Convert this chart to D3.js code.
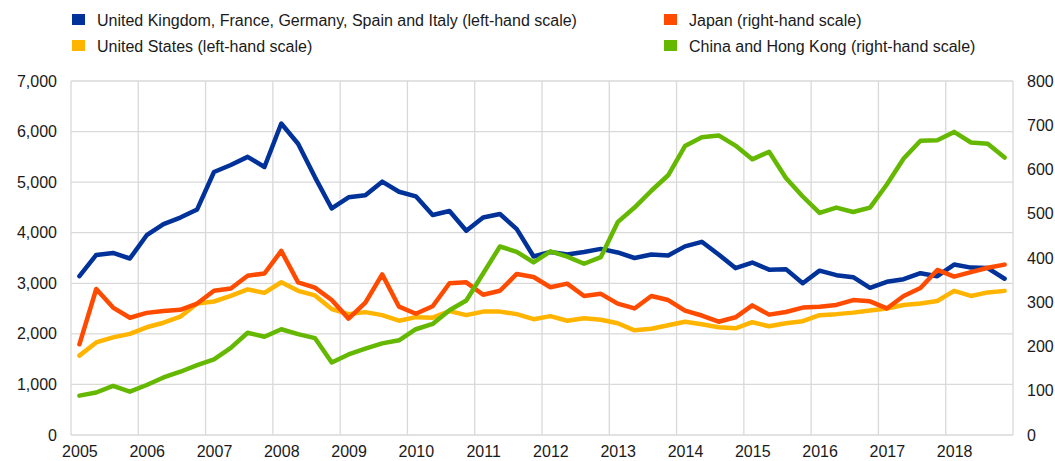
<!DOCTYPE html>
<html>
<head>
<meta charset="utf-8">
<script src="https://cdn.jsdelivr.net/npm/d3@7"></script>
<style>
  html, body { margin: 0; padding: 0; background: #ffffff; }
  svg { display: block; }
  text { font-family: "Liberation Sans", Arial, sans-serif; fill: #1a1a1a; }
</style>
</head>
<body>
<svg id="chart" width="1055" height="461"></svg>
<script>
// Quarterly observations, 2005 Q1 - 2018 Q4
const years = [2005, 2006, 2007, 2008, 2009, 2010, 2011, 2012, 2013, 2014, 2015, 2016, 2017, 2018];
const leftTicks = [0, 1000, 2000, 3000, 4000, 5000, 6000, 7000];
const rightTicks = [0, 100, 200, 300, 400, 500, 600, 700, 800];

// left-hand scale
const ukFrDeEsIt = [3140, 3560, 3600, 3490, 3950, 4170, 4300, 4460, 5200, 5340, 5500, 5300, 6160, 5760, 5100, 4480,
  4700, 4740, 5010, 4810, 4720, 4350, 4430, 4040, 4300, 4370, 4070, 3530, 3620, 3570, 3620, 3680,
  3610, 3500, 3570, 3550, 3730, 3820, 3570, 3300, 3410, 3270, 3280, 3000, 3250, 3160, 3120, 2910,
  3030, 3080, 3200, 3140, 3370, 3310, 3300, 3090];
const unitedStates = [1570, 1830, 1930, 2000, 2130, 2220, 2340, 2600, 2640, 2750, 2880, 2810, 3020, 2850, 2760, 2490,
  2390, 2430, 2370, 2260, 2330, 2320, 2450, 2370, 2440, 2440, 2390, 2290, 2350, 2260, 2310, 2280,
  2210, 2070, 2100, 2170, 2240, 2190, 2130, 2110, 2230, 2150, 2210, 2250, 2370, 2390, 2420, 2460,
  2500, 2570, 2600, 2650, 2850, 2750, 2820, 2850];
// right-hand scale
const japan = [205, 330, 288, 265, 276, 280, 283, 297, 326, 331, 360, 365, 416, 345, 333, 305,
  263, 299, 363, 290, 274, 291, 343, 345, 317, 326, 364, 357, 334, 342, 314, 319,
  297, 286, 314, 305, 281, 270, 256, 266, 293, 272, 278, 288, 290, 294, 305, 302,
  286, 314, 332, 373, 358, 368, 378, 385];
const chinaHK = [89, 96, 111, 98, 113, 130, 143, 158, 171, 197, 231, 222, 239, 228, 219, 164,
  182, 195, 207, 214, 239, 251, 282, 304, 365, 426, 414, 390, 415, 403, 387, 402,
  481, 514, 552, 587, 653, 673, 677, 654, 623, 640, 581, 539, 502, 514, 504, 514,
  566, 625, 665, 666, 685, 661, 658, 627];

const seriesNames = [
  "United Kingdom, France, Germany, Spain and Italy (left-hand scale)",
  "United States (left-hand scale)",
  "Japan (right-hand scale)",
  "China and Hong Kong (right-hand scale)"
];
const colors = ["#003299", "#FFB400", "#FF4B00", "#65B800"];

(function () {
  const svg = d3.select("#chart");
  const pLeft = 71, pRight = 1013, pTop = 81, pBottom = 435;
  const nQ = ukFrDeEsIt.length;

  const x = d3.scaleLinear().domain([0, nQ]).range([pLeft, pRight]);
  const yL = d3.scaleLinear().domain([0, 7000]).range([pBottom, pTop]);
  const yR = d3.scaleLinear().domain([0, 800]).range([pBottom, pTop]);

  const grid = svg.append("g");
  grid.selectAll("line.h").data(leftTicks).enter().append("line")
    .attr("x1", pLeft).attr("x2", pRight)
    .attr("y1", d => yL(d)).attr("y2", d => yL(d))
    .attr("stroke", "#d9d9d9").attr("stroke-width", 1.3);
  const vLines = d3.range(0, nQ + 1, 4);
  grid.selectAll("line.v").data(vLines).enter().append("line")
    .attr("x1", d => x(d)).attr("x2", d => x(d))
    .attr("y1", pTop).attr("y2", pBottom)
    .attr("stroke", "#d9d9d9").attr("stroke-width", 1.3);

  const axL = svg.append("g").attr("transform", `translate(${pLeft},0)`)
    .call(d3.axisLeft(yL).tickValues(leftTicks).tickFormat(d3.format(",")).tickSize(0).tickPadding(14));
  const axR = svg.append("g").attr("transform", `translate(${pRight},0)`)
    .call(d3.axisRight(yR).tickValues(rightTicks).tickFormat(d3.format(",")).tickSize(0).tickPadding(14));
  const axB = svg.append("g").attr("transform", `translate(0,${pBottom})`)
    .call(d3.axisBottom(x).tickValues(years.map((yy, k) => 4 * k + 0.5)).tickFormat((d, k) => years[k]).tickSize(0).tickPadding(11));
  [axL, axR, axB].forEach(a => {
    a.select(".domain").remove();
    a.selectAll("text").style("font-size", "16px").attr("fill", "#1a1a1a")
      .style("font-family", '"Liberation Sans", Arial, sans-serif');
  });

  const lineL = d3.line().x((d, i) => x(i + 0.5)).y(d => yL(d));
  const lineR = d3.line().x((d, i) => x(i + 0.5)).y(d => yR(d));
  const drawOrder = [
    { data: ukFrDeEsIt, gen: lineL, color: colors[0] },
    { data: unitedStates, gen: lineL, color: colors[1] },
    { data: japan, gen: lineR, color: colors[2] },
    { data: chinaHK, gen: lineR, color: colors[3] }
  ];
  svg.append("g").selectAll("path").data(drawOrder).enter().append("path")
    .attr("d", d => d.gen(d.data))
    .attr("fill", "none")
    .attr("stroke", d => d.color)
    .attr("stroke-width", 4.5)
    .attr("stroke-linejoin", "round")
    .attr("stroke-linecap", "round");

  const legendItems = [
    { name: seriesNames[0], color: colors[0], x: 72, y: 20 },
    { name: seriesNames[2], color: colors[2], x: 664, y: 20 },
    { name: seriesNames[1], color: colors[1], x: 72, y: 46 },
    { name: seriesNames[3], color: colors[3], x: 664, y: 46 }
  ];
  const lg = svg.append("g").selectAll("g").data(legendItems).enter().append("g")
    .attr("transform", d => `translate(${d.x},${d.y})`);
  lg.append("rect").attr("x", 0).attr("y", -6).attr("width", 13).attr("height", 11)
    .attr("fill", d => d.color);
  lg.append("text").attr("x", 25).attr("y", 6)
    .style("font-size", "16px").text(d => d.name);
})();
</script>
</body>
</html>
